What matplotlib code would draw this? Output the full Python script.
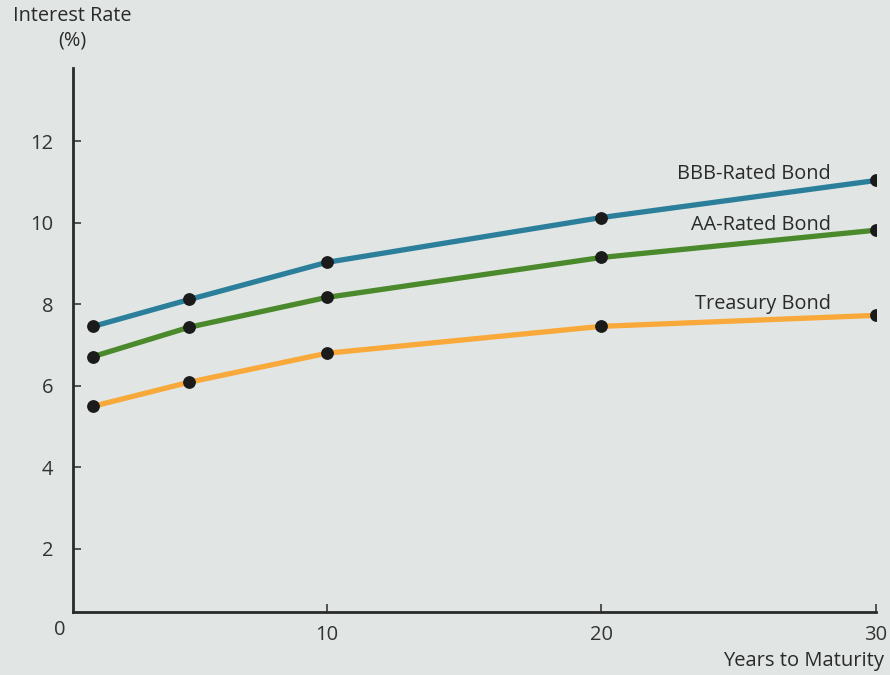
import matplotlib
matplotlib.use("Agg")
import matplotlib.pyplot as plt

# Yield curves by credit quality
maturity = [1.5, 5, 10, 20, 30]
bbb_rate = [7.46, 8.12, 9.03, 10.13, 11.04]
aa_rate = [6.72, 7.44, 8.17, 9.15, 9.82]
treasury_rate = [5.50, 6.09, 6.80, 7.46, 7.73]

series_names = ["BBB-Rated Bond", "AA-Rated Bond", "Treasury Bond"]
series_colors = ["#2b7f9b", "#4b8a2c", "#f8a93a"]

x_ticks = [10, 20, 30]
y_ticks = [2, 4, 6, 8, 10, 12]

bg = "#e1e6e4"
ink = "#2a2a2a"
font = ["Open Sans", "DejaVu Sans"]

fig = plt.figure(figsize=(8.9, 6.75), dpi=100, facecolor=bg)
ax = fig.add_axes([73 / 890, 63 / 675, 803 / 890, 544 / 675])
ax.set_facecolor(bg)

for rates, name, color in zip([bbb_rate, aa_rate, treasury_rate], series_names, series_colors):
    ax.plot(maturity, rates, color=color, lw=3.8, solid_capstyle="round",
            solid_joinstyle="round", zorder=2)
    ax.plot(maturity, rates, "o", color="#1b1b1b", ms=8.2, zorder=3)

ax.set_xlim(0.76, 30)
ax.set_ylim(0.45, 13.8)

for side in ("top", "right"):
    ax.spines[side].set_visible(False)
for side in ("left", "bottom"):
    ax.spines[side].set_color(ink)
    ax.spines[side].set_linewidth(2.0)

ax.set_xticks(x_ticks)
ax.set_yticks(y_ticks)
ax.tick_params(direction="in", length=6, width=1.1, color=ink,
               labelsize=14.5, labelcolor="#333333")
ax.tick_params(axis="y", pad=14)
ax.tick_params(axis="x", pad=9)
for lbl in ax.get_xticklabels() + ax.get_yticklabels():
    lbl.set_family(font)

# Series labels sitting above the right end of each curve
label_offsets = [0.16, 0.13, 0.28]
for rates, dy, name in zip([bbb_rate, aa_rate, treasury_rate], label_offsets, series_names):
    ax.text(28.35, rates[-1] + dy, name, ha="right", va="center",
            fontsize=14.3, color="#2a2a2a", family=font)

# Shared origin label and axis titles
fig.text(60 / 890, 1 - 630 / 675, "0", ha="center", va="center",
         fontsize=14.5, color="#333333", family=font)
fig.text(72 / 890, 1 - 6 / 675, "Interest Rate\n(%)", ha="center", va="top",
         fontsize=14.3, color="#2a2a2a", family=font, linespacing=1.3)
fig.text(884 / 890, 1 - 661 / 675, "Years to Maturity", ha="right", va="center",
         fontsize=14.5, color="#2a2a2a", family=font)

fig.savefig("out.png", dpi=100, facecolor=bg)
